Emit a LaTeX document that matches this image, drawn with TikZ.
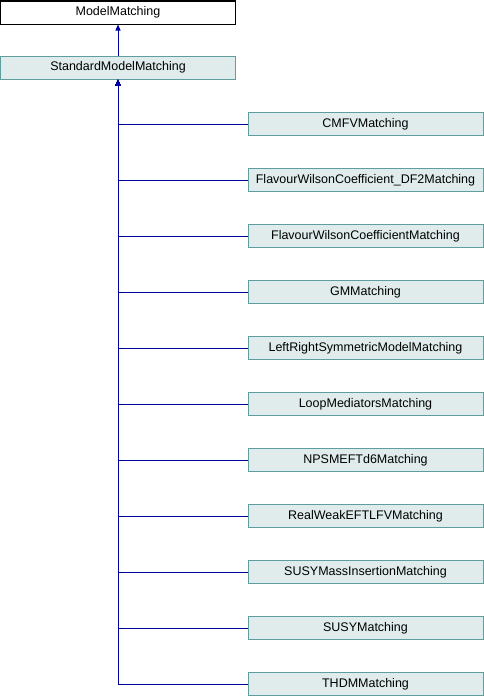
\documentclass[tikz,border=0pt]{standalone}
\usepackage{fontspec}
\setmainfont{Liberation Sans}
\usepackage{xcolor}
\usepackage{tikz}
\usetikzlibrary{arrows.meta}
\definecolor{edgeblue}{RGB}{0,0,160}
\definecolor{clsfill}{RGB}{224,236,236}
\definecolor{clsline}{RGB}{94,158,158}

\begin{document}
\begin{tikzpicture}[x=1pt, y=-1pt, line width=1pt, >={Triangle[length=6pt,width=5pt]},
    cls/.style={draw=clsline, fill=clsfill, minimum width=235pt, minimum height=23pt, inner sep=0pt, font=\fontsize{12.5}{14}\selectfont},
    base/.style={cls, draw=black, fill=white},
    edge/.style={draw=edgeblue, ->}]
      \useasboundingbox (0,0) rectangle (484,696);
      \node[base] (mm)  at (118,12.5) {ModelMatching};
      \node[cls]  (smm) at (118,67.5) {StandardModelMatching};
      \draw[edge] (smm.north) -- (mm.south);
      \foreach \name [count=\i from 0] in {CMFVMatching, FlavourWilsonCoefficient\_DF2Matching,
          FlavourWilsonCoefficientMatching, GMMatching, LeftRightSymmetricModelMatching,
          LoopMediatorsMatching, NPSMEFTd6Matching, RealWeakEFTLFVMatching,
          SUSYMassInsertionMatching, SUSYMatching, THDMMatching} {
        \node[cls] (c\i) at (365.5,{124+56*\i}) {\name};
        \draw[edge] (c\i.west) -| (smm.south);
      }
    \end{tikzpicture}
\end{document}
